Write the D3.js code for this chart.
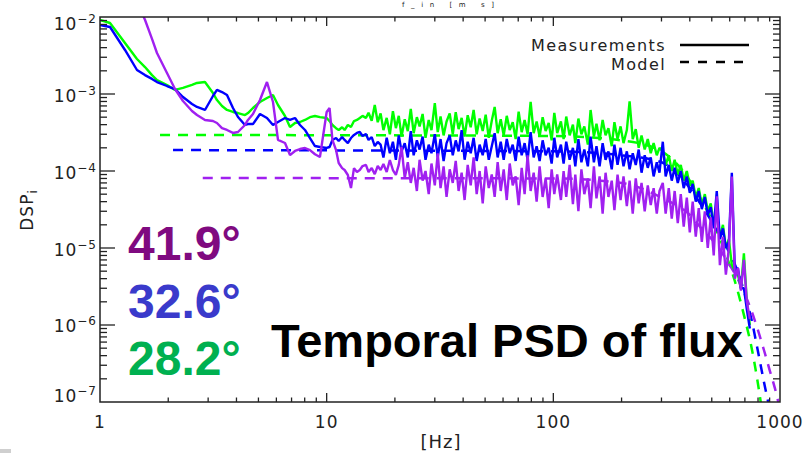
<!DOCTYPE html>
<html><head><meta charset="utf-8">
<script src="https://cdn.jsdelivr.net/npm/d3@7"></script>
<style>body{margin:0;background:#fff;} svg{display:block;}</style>
</head><body>
<svg id="c" width="804" height="453"></svg>
<script>
// values are in units of 1e-4 (DSP)
const UNIT = 1e-4;
const freqLow = [1.0,1.107,1.289,1.456,1.579,1.696,1.784,1.975,2.142,2.323,2.546,2.679,2.905,3.15,3.281,3.453,3.633,3.861,4.062,4.361,4.496,4.73,5.079,5.453,5.797,6.099,6.549,6.89,7.25,7.627,8.023,8.44,8.88,9.34];
const freqDense = [10,10.3,10.6,11,11.3,11.7,12,12.4,12.8,13.2,13.6,14,14.4,14.9,15.3,15.8,16.3,16.8,17.3,17.8,18.4,19,19.6,20.2,20.8,21.4,22.1,22.8,23.5,24.2,25,25.7,26.5,27.3,28.2,29,30,30.9,31.8,32.8,33.8,34.9,36,37.1,38.2,39.4,40.6,41.9,43.2,44.5,45.9,47.3,48.8,50.3,51.9,53.5,55.1,56.8,58.6,60.4,62.3,64.2,66.2,68.2,70.3,72.5,74.7,77,79.4,81.9,84.4,87,89.7,92.5,95.4,98.3,101,104,108,111,114,118,122,125,129,133,137,142,146,151,155,160,165,170,175,181,186,192,198,204,211,217,224,231,238,245,253,261,269,277,286,294,304,313,323,333,343,354,365,376,388,400,412,425,438,452,466,480,495,510,526,543,560,577,595,613,632,652,672,693,714,736];
const freqs = freqLow.concat(freqDense);

const green = [91.4,83.6,45.9,28.5,22.4,17.6,15.2,13.1,11.3,12.0,13.1,13.9,14.3,10.3,8.35,6.98,6.2,5.84,5.66,5.33,5.66,6.58,7.87,8.87,9.7,7.2,5.18,3.73,4.2,4.33,4.6,5.0,5.18,5.0,
 4.88,4.45,3.96,3.6,3.41,3.7,3.41,3.96,3.73,4.45,4.6,4.88,5.2,4.88,5.7,4.5,7.2,4.3,
 5.6,3.4,4.9,3.0,6.0,3.6,5.2,2.8,4.7,3.3,
 6.4,3.1,5.0,3.8,5.5,2.7,4.6,3.4,7.6,3.2,
 5.1,2.9,4.4,5.6,3.0,5.8,3.5,4.9,2.8,5.3,
 3.7,6.2,3.0,4.8,3.3,5.4,2.7,4.5,6.8,3.1,
 4.7,2.9,5.2,3.4,4.3,2.6,5.9,3.2,4.6,3.0,
 7.9,3.1,4.4,2.8,5.0,3.3,4.2,2.5,5.7,3.1,
 4.4,2.6,5.1,2.9,4.0,2.3,4.8,3.0,3.8,2.2,
 6.2,2.8,4.1,2.5,4.6,2.9,3.6,2.1,4.3,2.6,
 3.8,2.3,3.4,8.0,2.6,3.5,2.0,2.9,1.9,2.6,1.7,2.3,1.6,2.0,
 1.8,1.2,1.6,1.0,1.4,0.9,1.2,0.75,1.0,0.65,
 0.75,0.45,0.6,0.36,0.5,0.3,
 0.38,0.2,0.27,0.14,0.2,0.1,0.13,
 0.06,0.05,0.045,0.03,0.085,0.02,0.01];

const blue = [78.7,74.1,37.3,20.5,17.6,15.7,14.3,12.7,11.6,9.14,7.42,6.78,6.2,9.42,11.3,10.6,9.7,6.58,5.03,3.96,4.07,4.07,5.5,4.88,3.96,4.33,4.88,4.6,4.88,3.96,3.41,2.68,2.11,2.05,
 1.99,2.05,2.53,2.68,2.45,2.76,2.53,2.31,2.68,2.94,3.12,3.21,2.85,3.02,2.53,2.76,2.11,2.38,
 2.2,1.5,2.7,1.7,2.4,1.4,2.9,1.8,2.3,1.5,
 3.3,1.6,2.5,1.9,2.8,1.4,2.2,1.7,3.0,1.5,
 2.6,1.35,2.3,2.9,1.6,2.5,1.8,3.4,1.4,2.4,
 1.7,2.7,1.35,2.2,1.6,2.6,1.4,2.1,3.1,1.5,
 2.4,1.4,2.6,1.7,2.2,1.35,2.8,1.6,2.3,1.4,
 3.2,1.5,2.1,1.35,2.5,1.6,2.0,1.25,2.7,1.5,
 2.2,1.25,2.4,1.4,2.0,1.15,2.6,1.3,1.9,1.15,
 2.8,1.3,2.1,1.15,2.3,1.4,1.8,1.05,2.2,1.2,
 2.0,1.15,1.8,1.05,1.7,1.2,1.9,0.95,1.6,1.1,1.5,0.85,1.3,0.95,
 2.4,0.85,1.2,0.75,1.1,0.7,1.0,0.6,0.85,0.52,
 0.68,0.4,0.55,0.32,0.46,0.27,
 0.34,0.18,0.55,0.13,0.18,0.1,0.12,
 0.95,0.05,0.055,0.03,0.03,0.016,0.009];

const purple = [3000,1200,420,160,92,52,34.1,18.7,11.6,8.11,6.01,5.33,4.6,4.46,4.2,3.6,3.41,3.12,3.21,3.96,4.6,5.5,8.35,14.3,7.87,2.53,2.31,1.61,1.82,1.93,1.99,1.87,1.65,1.52,
 5.84,6.58,2.53,1.87,1.27,1.09,1.03,0.887,0.6,1.09,0.97,1.03,1.16,1.2,0.97,1.09,0.91,1.16,1.03,1.23,0.97,1.39,1.03,0.89,1.2,2.05,0.81,
 1.3,0.7,1.1,0.55,1.4,0.75,1.0,0.5,1.25,0.65,
 1.7,0.6,1.15,0.46,1.05,0.7,1.35,0.55,0.95,0.42,
 1.2,0.65,1.5,0.5,1.0,0.38,1.15,0.6,0.9,0.46,
 1.3,0.55,1.05,0.42,1.25,0.65,0.85,0.36,1.1,0.5,
 1.6,0.55,0.95,0.4,1.15,0.46,0.8,0.33,1.05,0.5,0.9,
 0.42,1.0,0.46,1.2,0.37,0.9,0.3,1.05,0.5,0.8,0.33,1.15,0.44,0.85,0.28,0.95,0.46,0.75,0.31,0.9,
 0.42,0.85,0.35,0.75,0.28,0.8,0.38,0.7,0.3,0.65,0.36,0.6,0.28,0.55,
 0.7,0.28,0.6,0.24,0.55,0.21,0.5,0.19,0.45,0.16,
 0.4,0.14,0.33,0.12,0.3,0.1,
 0.25,0.08,0.47,0.06,0.14,0.045,0.1,
 0.85,0.04,0.055,0.028,0.07,0.02,0.012];

// model curves (dashed)
const greenModelF = [1.84,100,200,300,400,450,500,550,600,650,700,750,800,850];
const greenModel = [2.94,2.85,2.5,1.8,0.75,0.42,0.23,0.12,0.06,0.028,0.012,0.005,0.0017,0.0005];
const blueModelF = [2.1,100,200,300,400,450,500,550,600,650,700,750,800,850,900,950];
const blueModel = [1.87,1.8,1.6,1.3,0.6,0.36,0.22,0.14,0.085,0.05,0.025,0.0115,0.0045,0.0018,0.0008,0.0003];
const purpleModelF = [2.84,100,200,300,400,450,500,550,600,650,700,750,800,850,900,950,1000];
const purpleModel = [0.81,0.8,0.7,0.45,0.27,0.18,0.13,0.09,0.06,0.04,0.025,0.015,0.0085,0.0047,0.0026,0.0015,0.0008];

const xTickLabels = ["1","10","100","1000"];
const yTickExp = [-2,-3,-4,-5,-6,-7];
const labels = [
  {text:"41.9°", color:"#7f0a80"},
  {text:"32.6°", color:"#3a3acb"},
  {text:"28.2°", color:"#00b050"}
];

const svg = d3.select("#c");
const x = d3.scaleLog().domain([1,1000]).range([100,780]);
const y = d3.scaleLog().domain([1e-7,1e-2]).range([402,17]);

svg.append("defs").append("clipPath").attr("id","clip")
  .append("rect").attr("x",100).attr("y",17).attr("width",680).attr("height",385);

const plot = svg.append("g").attr("clip-path","url(#clip)");
const line = d3.line().x(d=>x(d[0])).y(d=>y(d[1]));
const mline = d3.line().x(d=>x(d[0])).y(d=>y(d[1])).curve(d3.curveMonotoneX);

const models = [[greenModelF,greenModel,"#00ff00"],[blueModelF,blueModel,"#0000ff"],[purpleModelF,purpleModel,"#a020f0"]];
models.forEach(([fs,vs,c])=>{
  plot.append("path").datum(fs.map((f,i)=>[f,vs[i]*UNIT]))
    .attr("d",mline).attr("fill","none").attr("stroke",c)
    .attr("stroke-width",2.5).attr("stroke-dasharray","10,8");
});
const series = [[green,"#00ff00"],[blue,"#0000ff"],[purple,"#a020f0"]];
series.forEach(([vs,c])=>{
  plot.append("path").datum(freqs.map((f,i)=>[f,vs[i]*UNIT]))
    .attr("d",line).attr("fill","none").attr("stroke",c)
    .attr("stroke-width",2.4).attr("stroke-linejoin","bevel");
});

// frame
const axisColor = "#222";
svg.append("rect").attr("x",100).attr("y",17).attr("width",680).attr("height",385)
  .attr("fill","none").attr("stroke",axisColor).attr("stroke-width",1.5);

const tk = svg.append("g").attr("stroke",axisColor).attr("stroke-width",1.3);
for (let d=0; d<3; d++){
  for (let m=1; m<=9; m++){
    if (m===1 && d===0) continue;
    const px = x(Math.pow(10,d)*m);
    const len = m===1 ? 9 : 4.5;
    tk.append("line").attr("x1",px).attr("x2",px).attr("y1",402).attr("y2",402-len);
    tk.append("line").attr("x1",px).attr("x2",px).attr("y1",17).attr("y2",17+len);
  }
}
for (let e=-7; e<-2; e++){
  for (let m=1; m<=9; m++){
    if (m===1 && e===-7) continue;
    const py = y(m*Math.pow(10,e));
    const len = m===1 ? 15 : 7;
    tk.append("line").attr("x1",100).attr("x2",100+len).attr("y1",py).attr("y2",py);
    tk.append("line").attr("x1",780).attr("x2",780-len).attr("y1",py).attr("y2",py);
  }
}

const font = "DejaVu Sans, sans-serif";
const yBase = {"-2":30,"-3":102,"-4":179,"-5":256,"-6":332,"-7":402};
yTickExp.forEach(e=>{
  const t = svg.append("text").attr("x",97).attr("y",yBase[e]).attr("text-anchor","end")
    .attr("font-family",font).attr("font-size",17).attr("letter-spacing",1).attr("fill",axisColor);
  t.append("tspan").text("10");
  t.append("tspan").attr("dy",-7).attr("font-size",12).text("\u2212"+Math.abs(e));
});
xTickLabels.forEach(s=>{
  svg.append("text").attr("x",x(+s)).attr("y",428).attr("text-anchor","middle")
    .attr("font-family",font).attr("font-size",17).attr("letter-spacing",1).attr("fill",axisColor).text(s);
});
svg.append("text").attr("x",441).attr("y",448).attr("text-anchor","middle")
  .attr("font-family",font).attr("font-size",18).attr("letter-spacing",1).attr("fill",axisColor).text("[Hz]");
const yt = svg.append("text").attr("transform","translate(33,210) rotate(-90)").attr("text-anchor","middle")
  .attr("font-family",font).attr("font-size",17).attr("letter-spacing",1).attr("fill",axisColor);
yt.append("tspan").text("DSP");
yt.append("tspan").attr("dy",4).attr("font-size",12).text("i");
// top title (mostly outside the picture in the reference) – kept small inside the edge
svg.append("text").attr("x",402).attr("y",7).attr("font-family",font).attr("font-size",7)
  .attr("textLength",92).attr("lengthAdjust","spacing").attr("fill",axisColor).text("f_in [m s]");

// legend
svg.append("text").attr("x",666).attr("y",50.5).attr("text-anchor","end").attr("font-family",font)
  .attr("font-size",16).attr("letter-spacing",1.4).attr("fill",axisColor).text("Measurements");
svg.append("text").attr("x",666).attr("y",69.5).attr("text-anchor","end").attr("font-family",font)
  .attr("font-size",16).attr("letter-spacing",1.4).attr("fill",axisColor).text("Model");
svg.append("line").attr("x1",680).attr("x2",749).attr("y1",45).attr("y2",45).attr("stroke","#000").attr("stroke-width",2.5);
svg.append("line").attr("x1",680).attr("x2",749).attr("y1",62).attr("y2",62).attr("stroke","#000").attr("stroke-width",2.5).attr("stroke-dasharray","9,9");

const ann = [260,318,375];
labels.forEach((l,i)=>{
  svg.append("text").attr("x",128).attr("y",ann[i]).attr("font-family","Liberation Sans, Arial, sans-serif")
    .attr("font-weight","bold").attr("font-size",48).attr("fill",l.color).text(l.text);
});
svg.append("text").attr("x",271).attr("y",357).attr("font-family","Liberation Sans, Arial, sans-serif")
  .attr("font-weight","bold").attr("font-size",47).attr("fill","#000").text("Temporal PSD of flux");

svg.append("rect").attr("x",0).attr("y",449).attr("width",11).attr("height",4).attr("fill","#cfcfcf");
</script>
</body></html>
